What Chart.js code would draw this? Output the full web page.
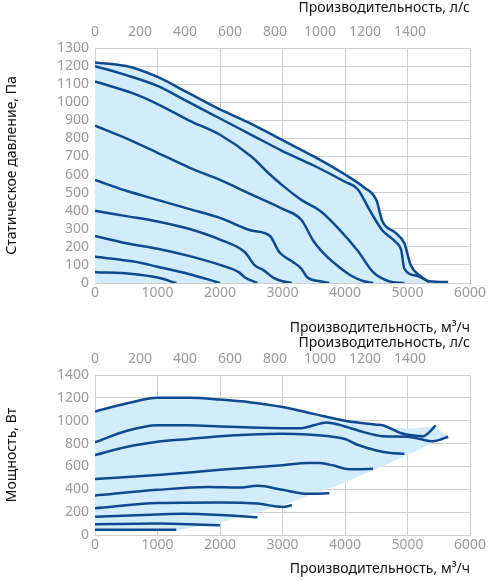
<!DOCTYPE html>
<html><head><meta charset="utf-8">
<script src="https://cdn.jsdelivr.net/npm/chart.js@4"></script>
<style>
body{margin:0;background:#fff;width:490px;height:581px;overflow:hidden;font-family:"Noto Sans"}
#c1w{position:absolute;left:0;top:0;width:490px;height:340px}
#c2w{position:absolute;left:0;top:335px;width:490px;height:246px}
</style></head><body>
<div id="c1w"><canvas id="c1"></canvas></div>
<div id="c2w"><canvas id="c2"></canvas></div>
<script>
// pressure curves, [m3/h, Pa]
var pres1 = [[0,1220],[500,1200],[1000,1140],[1500,1050],[2000,960],[2500,880],[3000,790],[3500,700],[4000,600],[4300,530],[4500,460],[4600,340],[4800,280],[4950,220],[5050,100],[5200,40],[5350,10],[5650,5]];
var pres2 = [[0,1200],[500,1150],[1000,1090],[1500,1000],[2000,910],[2500,820],[3000,730],[3500,650],[4000,560],[4200,520],[4400,400],[4600,290],[4800,230],[4900,180],[4950,80],[5150,40],[5350,5]];
var pres3 = [[0,1115],[600,1050],[1000,990],[1500,900],[2000,820],[2500,700],[2800,600],[3000,540],[3300,460],[3600,400],[3900,300],[4200,180],[4450,60],[4700,10],[4950,0]];
var pres4 = [[0,870],[500,800],[1000,720],[1500,640],[2000,570],[2500,490],[3000,410],[3300,350],[3500,230],[3700,150],[3900,90],[4100,40],[4300,10],[4450,0]];
var pres5 = [[0,570],[500,510],[1000,460],[1500,410],[2000,360],[2500,290],[2800,260],[2950,170],[3150,120],[3300,80],[3400,30],[3600,10],[3750,0]];
var pres6 = [[0,400],[500,370],[1000,340],[1500,300],[2000,240],[2400,170],[2550,100],[2700,70],[2850,30],[3000,10],[3150,0]];
var pres7 = [[0,260],[500,220],[1000,190],[1500,150],[2000,100],[2300,60],[2400,30],[2600,0]];
var pres8 = [[0,145],[600,120],[1000,90],[1500,50],[2000,0]];
var pres9 = [[0,60],[600,50],[1000,30],[1300,0]];
// power curves, [m3/h, W]
var pow1 = [[0,1080],[500,1150],[1000,1200],[1500,1200],[2000,1185],[2500,1160],[3000,1120],[3500,1060],[4000,1000],[4500,965],[4600,960],[4900,890],[5100,870],[5250,865],[5350,900],[5450,960]];
var pow2 = [[0,810],[500,910],[1000,960],[1500,960],[2000,950],[2500,940],[3000,935],[3300,935],[3500,960],[3700,985],[4000,950],[4300,900],[4600,865],[5000,860],[5200,840],[5400,820],[5500,830],[5650,860]];
var pow3 = [[0,700],[500,770],[1000,815],[1500,840],[2000,865],[2500,880],[3000,885],[3400,880],[3800,860],[4000,840],[4200,790],[4500,740],[4700,720],[4950,710]];
var pow4 = [[0,490],[1000,525],[2000,570],[3000,610],[3400,630],[3600,630],[3800,610],[4000,580],[4200,575],[4450,580]];
var pow5 = [[0,345],[1000,395],[1800,420],[2300,415],[2600,430],[3000,395],[3400,360],[3750,365]];
var pow6 = [[0,235],[1000,280],[2000,285],[2600,275],[2900,250],[3000,245],[3150,260]];
var pow7 = [[0,160],[1000,180],[1400,185],[2000,175],[2600,155]];
var pow8 = [[0,95],[1000,100],[1500,95],[2000,85]];
var pow9 = [[0,45],[1300,45]];
// shaded working area of the power chart
var powArea = [[0,1080],[500,1150],[1000,1200],[1500,1200],[2000,1185],[2500,1160],[3000,1120],[3500,1060],[4000,1000],[4500,965],[5000,930],[5400,950],[5650,870],[5000,700],[4000,460],[3000,260],[2000,110],[1300,40],[0,30]];

var LINE = '#0d4a8e', FILL = '#d3ecfb', GRID = '#cfcfcf', TICK = '#9a9a9a';
var FONT = {family: 'Noto Sans', size: 14};

function pts(a) { return a.map(function(p) { return {x: p[0], y: p[1]}; }); }
function line(a) {
  return {data: pts(a), borderColor: LINE, borderWidth: 2.5, pointRadius: 0, order: 0,
    tension: 0.4, cubicInterpolationMode: 'monotone', fill: false};
}
function fixed(size) { return function(s) { if (s.isHorizontal()) s.height = size; else s.width = size; }; }
function plain(v) { return String(v); }

function makeChart(id, curves, area, yMax, yStep, yTitle, fit) {
  var ds = curves.map(line);
  ds.push({data: pts(area), borderWidth: 0, pointRadius: 0, backgroundColor: FILL, fill: 'shape', tension: 0, order: 10});
  return new Chart(document.getElementById(id), {
    type: 'line',
    data: {datasets: ds},
    options: {
      responsive: true, maintainAspectRatio: false, animation: false,
      layout: {padding: {right: 20, top: 0, bottom: 0, left: 0}},
      plugins: {legend: {display: false}, tooltip: {enabled: false}},
      scales: {
        x: {type: 'linear', min: 0, max: 6000, position: 'bottom',
          ticks: {stepSize: 1000, color: TICK, font: FONT, padding: 2, maxRotation: 0, callback: plain},
          grid: {color: GRID, drawTicks: false}, border: {color: GRID},
          title: {display: true, text: 'Производительность, м³/ч', color: '#111', font: FONT, align: 'end', padding: {top: 4}},
          afterFit: fixed(fit.bottom)},
        x2: {type: 'linear', min: 0, max: 6000 / 3.6, position: 'top',
          ticks: {stepSize: 200, color: TICK, font: FONT, padding: 0, maxRotation: 0, autoSkip: false,
            callback: function(v) { return v % 200 === 0 ? String(v) : ''; }},
          grid: {display: false}, border: {display: false},
          title: {display: true, text: 'Производительность, л/с', color: '#111', font: FONT, align: 'end', padding: 0},
          afterFit: fixed(fit.top)},
        y: {min: 0, max: yMax,
          ticks: {stepSize: yStep, color: TICK, font: FONT, padding: 6, autoSkip: false, callback: plain},
          grid: {color: GRID, drawTicks: false}, border: {color: GRID},
          title: {display: true, text: yTitle, color: '#111', font: FONT},
          afterFit: fixed(95)}
      }
    }
  });
}

var presArea = pres1.concat([[5650,0],[0,0]]);
makeChart('c1', [pres1,pres2,pres3,pres4,pres5,pres6,pres7,pres8,pres9], presArea,
  1300, 100, 'Статическое давление, Па', {top: 48, bottom: 57});
makeChart('c2', [pow1,pow2,pow3,pow4,pow5,pow6,pow7,pow8,pow9], powArea,
  1400, 200, 'Мощность, Вт', {top: 40, bottom: 46});
</script>
</body></html>
